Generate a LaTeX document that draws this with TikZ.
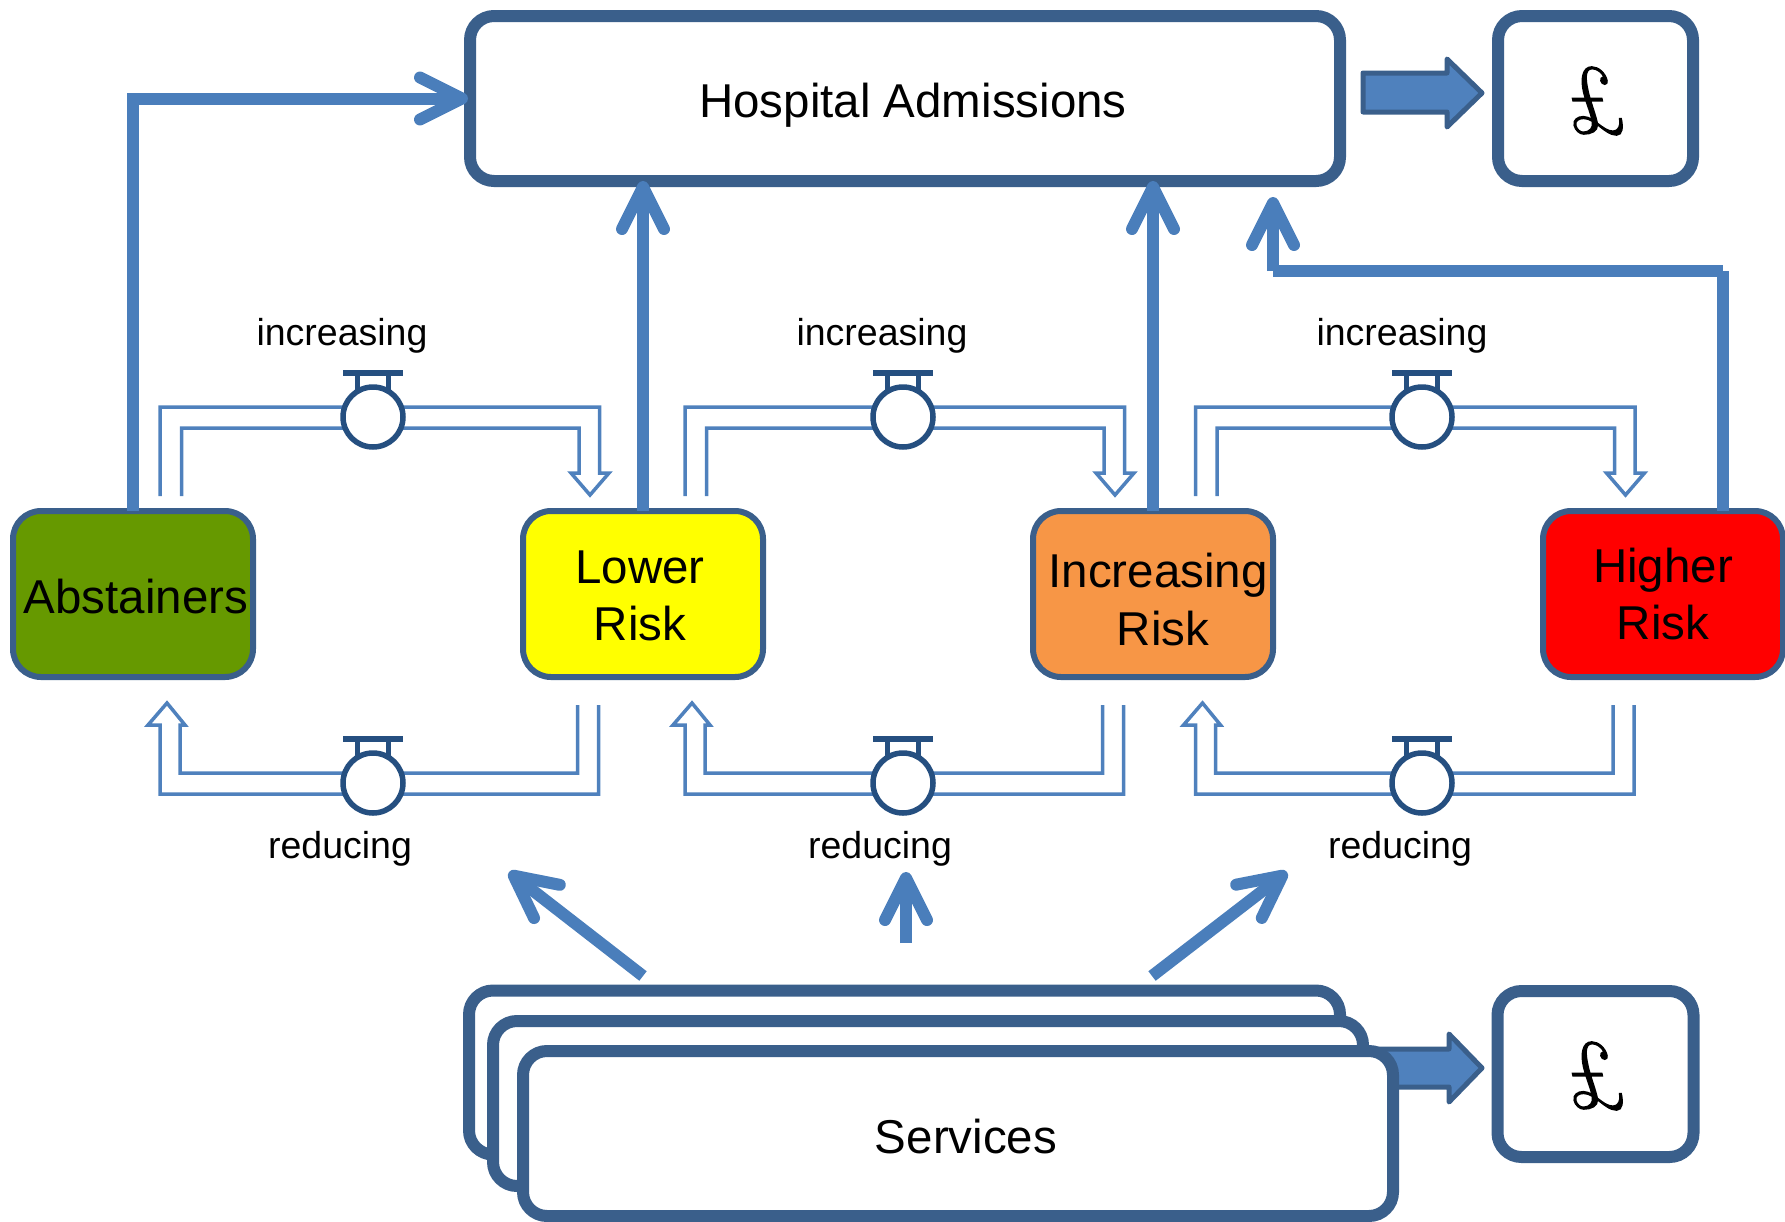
\documentclass[tikz,border=0pt]{standalone}
\usepackage{fontspec}
\setsansfont{Liberation Sans}
\newfontfamily\poundfont{Latin Modern Roman}[FakeBold=1.6,FakeSlant=-0.22,FakeStretch=0.88]
\usetikzlibrary{arrows.meta}
\definecolor{boxline}{HTML}{3A5F8B}
\definecolor{arrowblue}{HTML}{4A7EBB}
\definecolor{blockfill}{HTML}{4F81BD}
\definecolor{valveline}{HTML}{254F80}
\definecolor{pipeblue}{HTML}{4F81BD}
\definecolor{absgreen}{HTML}{669900}
\definecolor{lowyellow}{HTML}{FFFF00}
\definecolor{incorange}{HTML}{F79646}
\definecolor{highred}{HTML}{FF0000}
\tikzset{
  bigbox/.style={draw=boxline,fill=white,line width=12pt,rounded corners=24pt,inner sep=0pt,outer sep=0pt},
  riskbox/.style={draw=boxline,line width=6pt,rounded corners=28pt,minimum width=240pt,minimum height=166pt,inner sep=0pt,outer sep=0pt},
  bigtext/.style={font=\sffamily\fontsize{47.5}{57}\selectfont,align=center,inner sep=0pt,text=black},
  smalltext/.style={font=\sffamily\fontsize{37.5}{45}\selectfont,inner sep=0pt,text=black},
  poundtext/.style={font=\poundfont\fontsize{96}{96}\selectfont,inner sep=0pt,text=black},
  thick arrow/.style={draw=arrowblue,line width=12pt,-{Straight Barb[length=42pt,width=42pt,round]}},
  thick line/.style={draw=arrowblue,line width=12pt},
  pipe/.style={draw=pipeblue,line width=3.5pt,line join=miter},
  block/.style={draw=boxline,fill=blockfill,line width=5pt,line join=round},
  valvebody/.style={circle,draw=valveline,fill=white,line width=5.5pt,minimum size=60pt,inner sep=0pt,outer sep=0pt},
  valvestem/.style={draw=valveline,line width=5pt},
  valvebar/.style={draw=valveline,line width=6pt},
}
\newcommand{\pipeup}[1]{%
  \draw[pipe,xshift=#1pt] (160,496) -- (160,407) -- (599.5,407) -- (599.5,473) -- (609,473) -- (590,495) -- (571,473) -- (579,473) -- (579,428) -- (181.5,428) -- (181.5,496);}
\newcommand{\pipedown}[1]{%
  \draw[pipe,xshift=#1pt] (598.5,705) -- (598.5,794) -- (160,794) -- (160,725) -- (148,725) -- (167,703) -- (185,725) -- (180,725) -- (180,773) -- (577.5,773) -- (577.5,705);}
\newcommand{\valveup}[2]{%
  \draw[valvestem] (#1-15.5,375) -- (#1-15.5,395) (#1+15.5,375) -- (#1+15.5,395);
  \draw[valvebar] (#1-30,373) -- (#1+30,373);
  \node[valvebody] (#2) at (#1,417) {};}
\newcommand{\valvedown}[2]{%
  \draw[valvestem] (#1-15.5,741) -- (#1-15.5,761) (#1+15.5,741) -- (#1+15.5,761);
  \draw[valvebar] (#1-30,739) -- (#1+30,739);
  \node[valvebody] (#2) at (#1,783) {};}
\begin{document}
\begin{tikzpicture}[x=1pt,y=-1pt]
\useasboundingbox (0,0) rectangle (1785,1221);
% top row
\node[bigbox,minimum width=870pt,minimum height=165pt] (hosp) at (905,98.5) {};
\node[bigbox,minimum width=195pt,minimum height=165pt] (cost1) at (1595.5,98.5) {};
\node[bigtext] (hosptext) at (913,105.5) {Hospital Admissions};
\node[poundtext] (pound1) at (1600,101) {\textsterling};
\draw[block] (1363,73) -- (1447,73) -- (1447,59) -- (1482,93) -- (1447,127) -- (1447,112) -- (1363,112) -- cycle;
% risk boxes
\node[riskbox,fill=absgreen] (abst) at (133,594) {};
\node[riskbox,fill=lowyellow] (lower) at (643,594) {};
\node[riskbox,fill=incorange] (incr) at (1153,594) {};
\node[riskbox,fill=highred] (high) at (1663,594) {};
\node[bigtext] (abstt) at (136,597) {Abstainers};
\node[bigtext] (lowert) at (640,595.5) {Lower\\Risk};
\node[bigtext] (incrt1) at (1158,575.5) {Increasing};
\node[bigtext] (incrt2) at (1163,629) {Risk};
\node[bigtext] (hight) at (1663,594.5) {Higher\\Risk};
% pipes
\pipeup{0}\pipeup{525}\pipeup{1035.5}
\pipedown{0}\pipedown{525}\pipedown{1035.5}
\valveup{373}{vu1}\valveup{903}{vu2}\valveup{1422}{vu3}
\valvedown{373}{vd1}\valvedown{903}{vd2}\valvedown{1422}{vd3}
\node[smalltext] (li1) at (342,335.5) {increasing};
\node[smalltext] (li2) at (882,335.5) {increasing};
\node[smalltext] (li3) at (1402,335.5) {increasing};
\node[smalltext] (lr1) at (340,848.5) {reducing};
\node[smalltext] (lr2) at (880,848.5) {reducing};
\node[smalltext] (lr3) at (1400,848.5) {reducing};
% thick connectors
\coordinate (c1) at (abst.north |- hosp.west);
\draw[thick line,line join=miter] (abst.north) -- (c1);
\draw[thick arrow,shorten >=2pt] (c1) ++(-6,0) -- (hosp.west);
\draw[thick arrow] (lower.north) -- (lower.north |- hosp.south);
\draw[thick arrow] (incr.north) -- (incr.north |- hosp.south);
\coordinate (c2) at (1723,271);
\coordinate (c3) at (1273,271);
\coordinate (c4) at (1273,197);
\draw[thick line] (high.north -| c2) -- (c2);
\draw[thick line] (c2) -- (c3);
\draw[thick arrow] (c3) -- (c4);
% services
\draw[block] (1363,1049) -- (1449,1049) -- (1449,1034) -- (1482,1068) -- (1449,1102) -- (1449,1087) -- (1363,1087) -- cycle;
\node[bigbox,minimum width=871pt,minimum height=164pt] (s1) at (904.5,1072.5) {};
\node[bigbox,minimum width=870pt,minimum height=165pt] (s2) at (928,1103.5) {};
\node[bigbox,minimum width=870pt,minimum height=165pt] (s3) at (958,1133.5) {};
\node[bigtext] (stext) at (966,1137) {Services};
\node[bigbox,minimum width=196pt,minimum height=166pt] (cost2) at (1595.5,1074) {};
\node[poundtext] (pound2) at (1600,1076) {\textsterling};
\coordinate (a1) at (643,976);
\coordinate (a1t) at (509,872);
\coordinate (a2) at (906,943);
\coordinate (a2t) at (906,872);
\coordinate (a3) at (1152,976);
\coordinate (a3t) at (1287,872);
\draw[thick arrow] (a1) -- (a1t);
\draw[thick arrow] (a2) -- (a2t);
\draw[thick arrow] (a3) -- (a3t);
\end{tikzpicture}
\end{document}
